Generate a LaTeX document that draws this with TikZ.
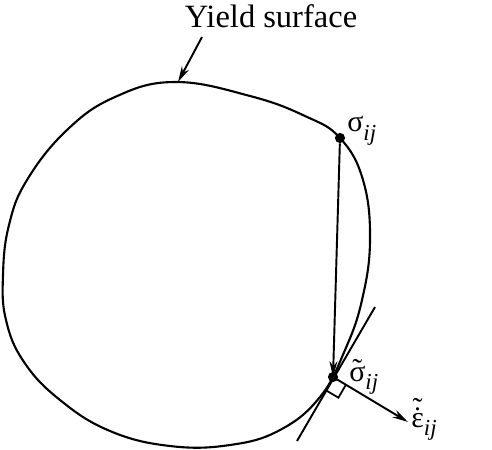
\documentclass[tikz,border=0pt]{standalone}
\usepackage{fontspec}
\setmainfont{Liberation Serif}
\usepackage{tikz}
\usetikzlibrary{positioning, arrows.meta}
\tikzstyle{surfaceLine}=[line width=1.2pt]
\tikzstyle{pointDot}=[circle, fill, inner sep=0pt, minimum size=5.8pt]
\tikzstyle{stateTransition}=[-{Stealth[length=9pt, width=4.5pt]}, line width=1.1pt]
\tikzstyle{labelNode}=[inner sep=0pt, anchor=base west, font=\fontsize{17}{20}\selectfont]
\newcommand{\subij}{\raisebox{-0.3em}{\fontsize{13}{14}\selectfont\itshape ij}}
\newcommand{\tildeOn}[1]{\ooalign{#1\cr\hidewidth\raisebox{0.06em}{˜}\hidewidth\cr}}
\newcommand{\dotTildeOn}[1]{\ooalign{#1\cr\hidewidth˙\hidewidth\cr\hidewidth\raisebox{0.3em}{˜}\hidewidth\cr}}

\begin{document}
\begin{tikzpicture}[x=0.02cm, y=-0.02cm]

    \useasboundingbox (0,0) rectangle (492,449);

    % yield surface

    \draw[surfaceLine] plot[smooth cycle, tension=0.7] coordinates {
        (175,82) (250,96) (305,116) (340,138) (363,180) (370,240)
        (362,300) (345,350) (320,397) (280,430) (230,445) (170,446)
        (110,431) (60,400) (24,362) (6,320) (3,275) (9,225) (27,180)
        (67,130) (115,97)};

    % nodes

    \coordinate (top) at (178,82);
    \coordinate (yStart) at (202,37);
    \node[pointDot] (sig) at (340,138) {};
    \node[pointDot] (sigT) at (333,377) {};
    \coordinate (tanA) at (375,307);
    \coordinate (tanB) at (297,441);
    \coordinate (epsEnd) at (408,422);
    \coordinate (boxA) at (325.5,390);
    \coordinate (boxB) at (338.4,397.7);
    \coordinate (boxC) at (345.9,384.7);

    \node[font=\fontsize{18.5}{20}\selectfont, anchor=base, inner sep=0pt] (yield) at (271,28) {Yield surface};
    \node[labelNode] (sigLabel) at (347,132) {σ\subij};
    \node[labelNode] (sigTLabel) at (349,381) {\tildeOn{σ}\subij};
    \node[labelNode] (epsLabel) at (411,427) {\dotTildeOn{ε}\subij};

    % transition

    \draw[stateTransition] (yStart) -- (top);
    \draw[stateTransition] (sig) -- (sigT.center);
    \draw[line width=1.1pt] (tanA) -- (tanB);
    \draw[stateTransition] (sigT.center) -- (epsEnd);
    \draw[line width=1pt] (boxA) -- (boxB) -- (boxC);

\end{tikzpicture}
\end{document}
